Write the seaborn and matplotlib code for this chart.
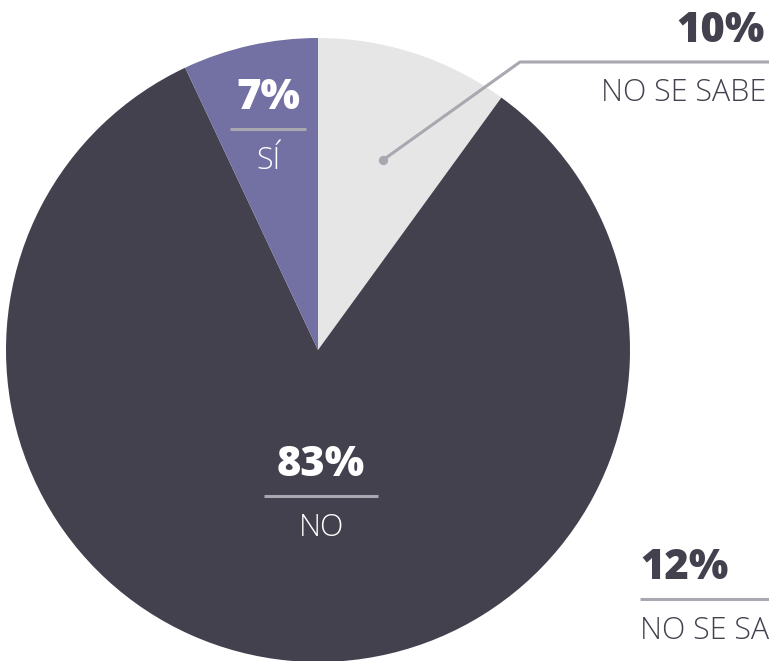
import matplotlib
matplotlib.use("Agg")
import matplotlib.pyplot as plt
import seaborn as sns

sns.set_theme(style="white")
plt.rcParams["font.family"] = ["Open Sans", "DejaVu Sans"]

# Survey answers, clockwise from 12 o'clock
labels = ["NO SE SABE", "NO", "SÍ"]
values = [10, 83, 7]
colors = ["#e6e6e6", "#44414f", "#7370a3"]

# Second "unknown" figure shown beside the pie
extra_label = "NO SE SABE"
extra_value = 12

W, H = 769, 661
DARK = "#44414f"
RULE = "#a9a8b0"

fig = plt.figure(figsize=(W / 100, H / 100), dpi=100)
ax = fig.add_axes([0, 0, 1, 1])
ax.set_xlim(0, W)
ax.set_ylim(0, H)
ax.set_aspect("equal")
ax.axis("off")


def Y(y):
    # pixel row (from top) -> axis y
    return H - y


cx, cy, r = 318, 350, 312
ax.pie(values, colors=colors, startangle=90, counterclock=False,
       center=(cx, Y(cy)), radius=r, wedgeprops=dict(linewidth=0))
ax.set_xlim(0, W)
ax.set_ylim(0, H)

big = dict(fontsize=30, fontweight=800, family=["Open Sans", "DejaVu Sans"])
small = dict(fontsize=22, fontweight="light", family=["Open Sans", "DejaVu Sans"])


def inside_label(x, y_num, y_rule, y_txt, half, value, text):
    ax.text(x, Y(y_num), f"{value}%", color="white", ha="center", va="center", **big)
    ax.plot([x - half, x + half], [Y(y_rule), Y(y_rule)], color=RULE, lw=2.2,
            solid_capstyle="butt")
    ax.text(x, Y(y_txt), text, color="white", ha="center", va="center", **small)


inside_label(268, 98, 129, 161, 38, values[2], labels[2])
inside_label(321, 465, 496, 528, 57, values[1], labels[1])

# Callout for the light slice
ax.plot([383, 520, W], [Y(160), Y(62), Y(62)], color=RULE, lw=2.2,
        solid_capstyle="butt")
ax.scatter([383], [Y(160)], s=45, color=RULE, zorder=5, linewidths=0)
ax.text(765, Y(31), f"{values[0]}%", color=DARK, ha="right", va="center", **big)
ax.text(766, Y(93), labels[0], color=DARK, ha="right", va="center", **small)

# Side figure at lower right
ax.text(640, Y(568), f"{extra_value}%", color=DARK, ha="left", va="center", **big)
ax.plot([640, W], [Y(599), Y(599)], color=RULE, lw=2.2, solid_capstyle="butt")
ax.text(640, Y(631), extra_label, color=DARK, ha="left", va="center", **small)

fig.savefig("out.png", dpi=100)
